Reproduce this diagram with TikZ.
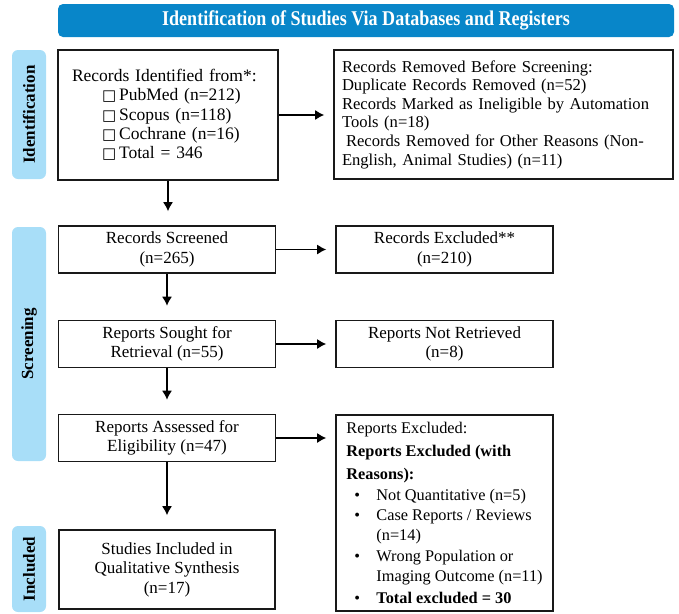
\documentclass[tikz,border=0pt]{standalone}
\usepackage{fontspec}
\setmainfont{Liberation Serif}
\newfontfamily\symfont{DejaVu Sans}
\usetikzlibrary{arrows.meta}

\definecolor{headblue}{RGB}{8,134,201}
\definecolor{sideblue}{RGB}{168,222,248}

\tikzset{
  flowbox/.style={draw=black!90, line width=1.6pt, inner sep=0pt,
    font=\fontsize{17}{19.5}\selectfont},
  sidelabel/.style={fill=sideblue, rounded corners=6pt, rotate=90,
    minimum height=34pt, inner sep=0pt, font=\bfseries\fontsize{17}{20}\selectfont},
  flowarrow/.style={line width=1.3pt, -{Latex[length=9pt,width=10pt]}},
}

\newcommand{\sqitem}{\hspace*{30pt}{\symfont\fontsize{15}{19}\selectfont □}\,}
\newcommand{\bulitem}{\hspace*{8pt}\makebox[22pt][l]{\textbullet}}
\newcommand{\bulcont}{\hspace*{30pt}}

\begin{document}
\begin{tikzpicture}[x=1pt, y=-1pt]
    \useasboundingbox (0,0) rectangle (679,613);

    % Header bar
    \node[fill=headblue, rounded corners=5pt, minimum width=616pt, minimum height=33pt,
      inner sep=0pt, text=white, font=\bfseries\fontsize{21}{24}\selectfont]
      (head) at (366,20.5) {\scalebox{0.86}[1]{Identification of Studies Via Databases and Registers}};

    % Phase labels on the left
    \node[sidelabel, minimum width=129pt] (idlab) at (29,114.5) {Identification};
    \node[sidelabel, minimum width=234pt] (scrlab) at (29,344) {Screening};
    \node[sidelabel, minimum width=86pt] (inclab) at (29,569) {Included};

    % Identification boxes
    \node[flowbox, minimum width=220pt, minimum height=130pt, text width=192pt, align=left,
      font=\fontsize{17.5}{19.3}\selectfont] (ident) at (168,115)
      {Records Identified from*:\\
       \sqitem PubMed (n=212)\\
       \sqitem Scopus (n=118)\\
       \sqitem Cochrane (n=16)\\
       \sqitem Total = 346};
    \node[flowbox, minimum width=339pt, minimum height=129pt, text width=323pt, align=left,
      font=\fontsize{16.6}{18.6}\selectfont] (removed) at (503.5,114.5)
      {Records Removed Before Screening:\\
       Duplicate Records Removed (n=52)\\
       Records Marked as Ineligible by Automation\\
       Tools (n=18)\\
       \hspace*{4pt}Records Removed for Other Reasons (Non-\\
       English, Animal Studies) (n=11)};

    % Screening boxes
    \node[flowbox, minimum width=217pt, minimum height=47pt, align=center] (screened) at (167,249.5)
      {Records Screened\\(n=265)};
    \node[flowbox, minimum width=217pt, minimum height=47pt, align=center] (excluded) at (444.5,249.5)
      {Records Excluded**\\(n=210)};
    \node[flowbox, minimum width=217pt, minimum height=47pt, align=center] (sought) at (167,344)
      {Reports Sought for\\Retrieval (n=55)};
    \node[flowbox, minimum width=217pt, minimum height=47pt, align=center] (notret) at (444.5,344)
      {Reports Not Retrieved\\(n=8)};
    \node[flowbox, minimum width=217pt, minimum height=47pt, align=center] (assessed) at (167,438)
      {Reports Assessed for\\Eligibility (n=47)};
    \node[flowbox, minimum width=217pt, minimum height=196pt, align=left,
      font=\fontsize{16.3}{20.3}\selectfont] (repexcl) at (444.5,513)
      {Reports Excluded:\\[3pt]
       \textbf{Reports Excluded (with}\\[3pt]
       \textbf{Reasons):}\\
       \bulitem Not Quantitative (n=5)\\
       \bulitem Case Reports / Reviews\\
       \bulcont (n=14)\\
       \bulitem Wrong Population or\\
       \bulcont Imaging Outcome (n=11)\\[2pt]
       \bulitem \textbf{Total excluded = 30}};

    % Included box
    \node[flowbox, minimum width=216pt, minimum height=79pt, align=center] (included) at (167,569.5)
      {Studies Included in\\Qualitative Synthesis\\(n=17)};

    % Arrows down the main column
    \draw[flowarrow, shorten >=14pt] (ident.south) -- (ident.south |- screened.north);
    \draw[flowarrow, shorten >=14pt] (screened.south) -- (sought.north);
    \draw[flowarrow, shorten >=14pt] (sought.south) -- (assessed.north);
    \draw[flowarrow, shorten >=14pt] (assessed.south) -- (included.north);

    % Arrows to the side boxes
    \draw[flowarrow, shorten >=9pt] (ident.east) -- (ident.east -| removed.west);
    \draw[flowarrow, shorten >=9pt] (screened.east) -- (excluded.west);
    \draw[flowarrow, shorten >=9pt] (sought.east) -- (notret.west);
    \draw[flowarrow, shorten >=9pt] (assessed.east) -- (assessed.east -| repexcl.west);
\end{tikzpicture}
\end{document}
